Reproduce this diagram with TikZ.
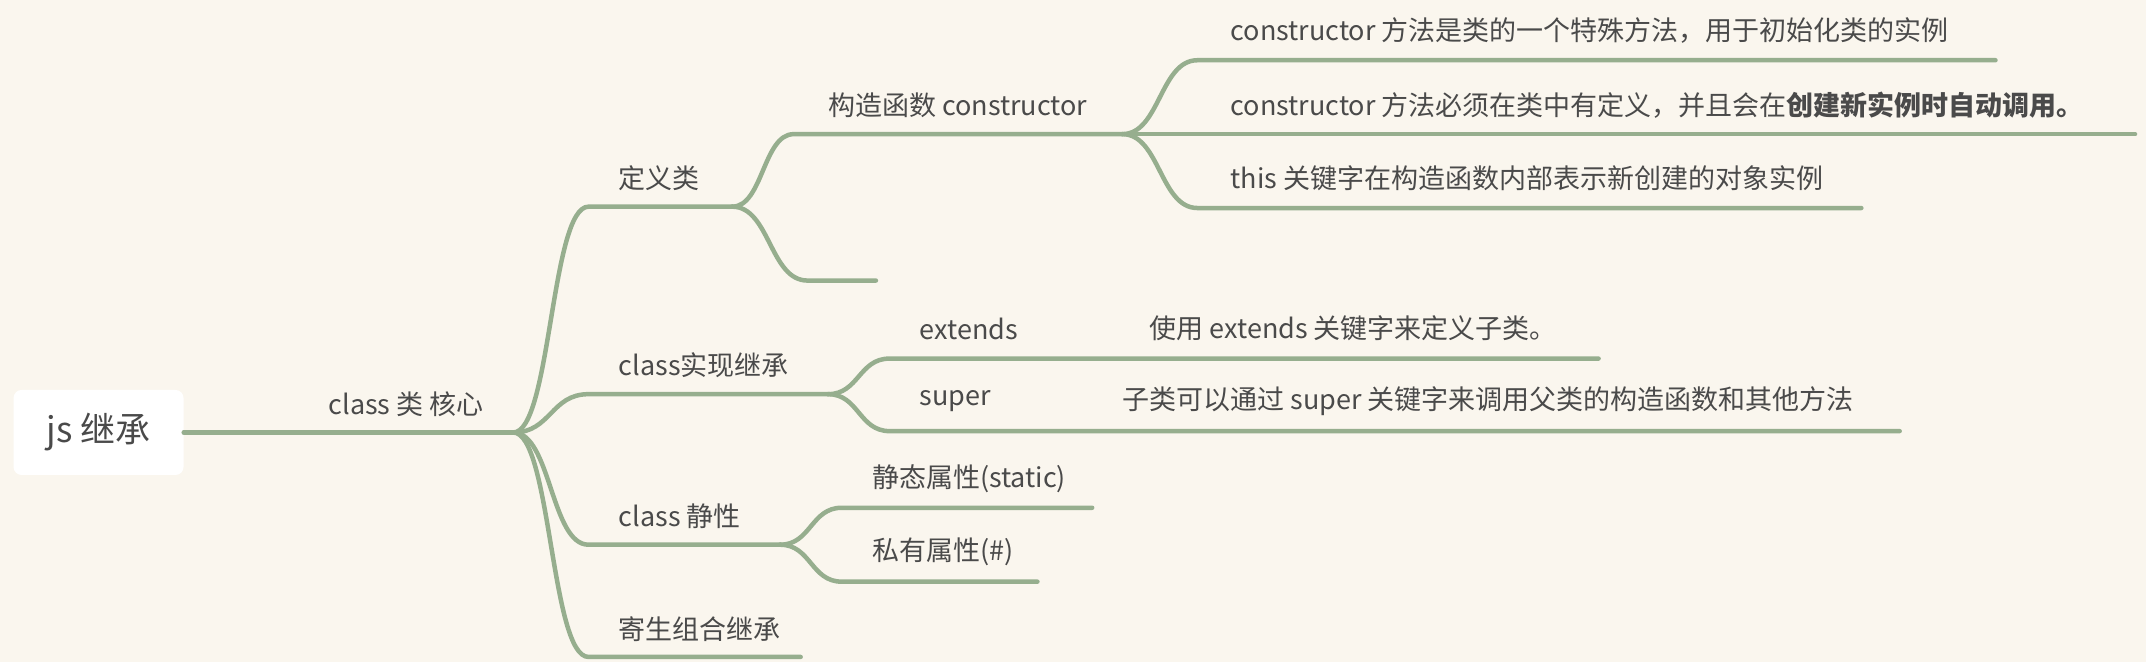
\documentclass[tikz,border=0pt]{standalone}
\usepackage{fontspec}
\usetikzlibrary{calc}
\setmainfont{Noto Sans CJK SC}
\definecolor{bgcream}{HTML}{FAF6EE}
\definecolor{sage}{HTML}{96AE8E}
\definecolor{inkgray}{HTML}{4A4A4A}
\tikzset{
  lbl/.style={anchor=west, text=inkgray, font=\fontsize{27}{32}\selectfont, inner sep=0pt},
  twig/.style={draw=sage, line width=4.5pt, line cap=round}
}
\begin{document}
\begin{tikzpicture}[x=1.3686pt, y=-1.3686pt]
\fill[bgcream] (0,0) rectangle (1568,483.7);
\useasboundingbox (0,0) rectangle (1568,483.7);
% root
\node[fill=white, rounded corners=8pt, minimum width=170pt, minimum height=85pt, text=inkgray, font=\fontsize{35}{40}\selectfont] (root) at (72,316) {js 继承};
\node[lbl] (core) at (240,295) {class 类 核心};
\coordinate (coreE) at (375,316);
\draw[twig] (root.east) -- (coreE);
% first level
\node[lbl] (def) at (452,130) {定义类};
\node[lbl] (inh) at (452,267) {class实现继承};
\node[lbl] (sta) at (452,377) {class 静性};
\node[lbl] (par) at (452,460) {寄生组合继承};
\coordinate (defW) at (430,151); \coordinate (defE) at (535,151);
\coordinate (inhW) at (430,288); \coordinate (inhE) at (605,288);
\coordinate (staW) at (430,398); \coordinate (staE) at (570,398);
\coordinate (parW) at (430,480); \coordinate (parE) at (585,480);
\foreach \n in {def,inh,sta,par}{
  \draw[twig] (coreE) .. controls ($(coreE)!0.5!(coreE-|\n W)$) and ($(\n W)!0.5!(\n W-|coreE)$) .. (\n W) -- (\n E);
}
% 定义类
\node[lbl] (ctor) at (605,77) {构造函数 constructor};
\coordinate (ctorW) at (580,98); \coordinate (ctorE) at (820,98);
\coordinate (blankW) at (590,205); \coordinate (blankE) at (640,205);
\foreach \n in {ctor,blank}{
  \draw[twig] (defE) .. controls ($(defE)!0.5!(defE-|\n W)$) and ($(\n W)!0.5!(\n W-|defE)$) .. (\n W) -- (\n E);
}
% constructor
\node[lbl] (ca) at (899,22) {constructor 方法是类的一个特殊方法，用于初始化类的实例};
\node[lbl] (cb) at (899,77) {constructor 方法必须在类中有定义，并且会在\textbf{创建新实例时自动调用。}};
\node[lbl] (cc) at (899,130) {this 关键字在构造函数内部表示新创建的对象实例};
\coordinate (caW) at (875,44); \coordinate (caE) at (1458,44);
\coordinate (cbW) at (875,98); \coordinate (cbE) at (1560,98);
\coordinate (ccW) at (875,152); \coordinate (ccE) at (1360,152);
\foreach \n in {ca,cb,cc}{
  \draw[twig] (ctorE) .. controls ($(ctorE)!0.5!(ctorE-|\n W)$) and ($(\n W)!0.5!(\n W-|ctorE)$) .. (\n W) -- (\n E);
}
% class实现继承
\node[lbl] (ext) at (672,240) {extends};
\node[lbl] (sup) at (672,293) {super};
\node[lbl] (extx) at (840,240) {使用 extends 关键字来定义子类。};
\node[lbl] (supx) at (820,293) {子类可以通过 super 关键字来调用父类的构造函数和其他方法};
\coordinate (extW) at (650,262); \coordinate (extE) at (1168,262);
\coordinate (supW) at (650,315); \coordinate (supE) at (1388,315);
\foreach \n in {ext,sup}{
  \draw[twig] (inhE) .. controls ($(inhE)!0.5!(inhE-|\n W)$) and ($(\n W)!0.5!(\n W-|inhE)$) .. (\n W) -- (\n E);
}
% class 静性
\node[lbl] (stat) at (637,350) {静态属性(static)};
\node[lbl] (priv) at (637,403) {私有属性(\#)};
\coordinate (statW) at (615,371); \coordinate (statE) at (798,371);
\coordinate (privW) at (615,425); \coordinate (privE) at (758,425);
\foreach \n in {stat,priv}{
  \draw[twig] (staE) .. controls ($(staE)!0.5!(staE-|\n W)$) and ($(\n W)!0.5!(\n W-|staE)$) .. (\n W) -- (\n E);
}
\end{tikzpicture}
\end{document}
